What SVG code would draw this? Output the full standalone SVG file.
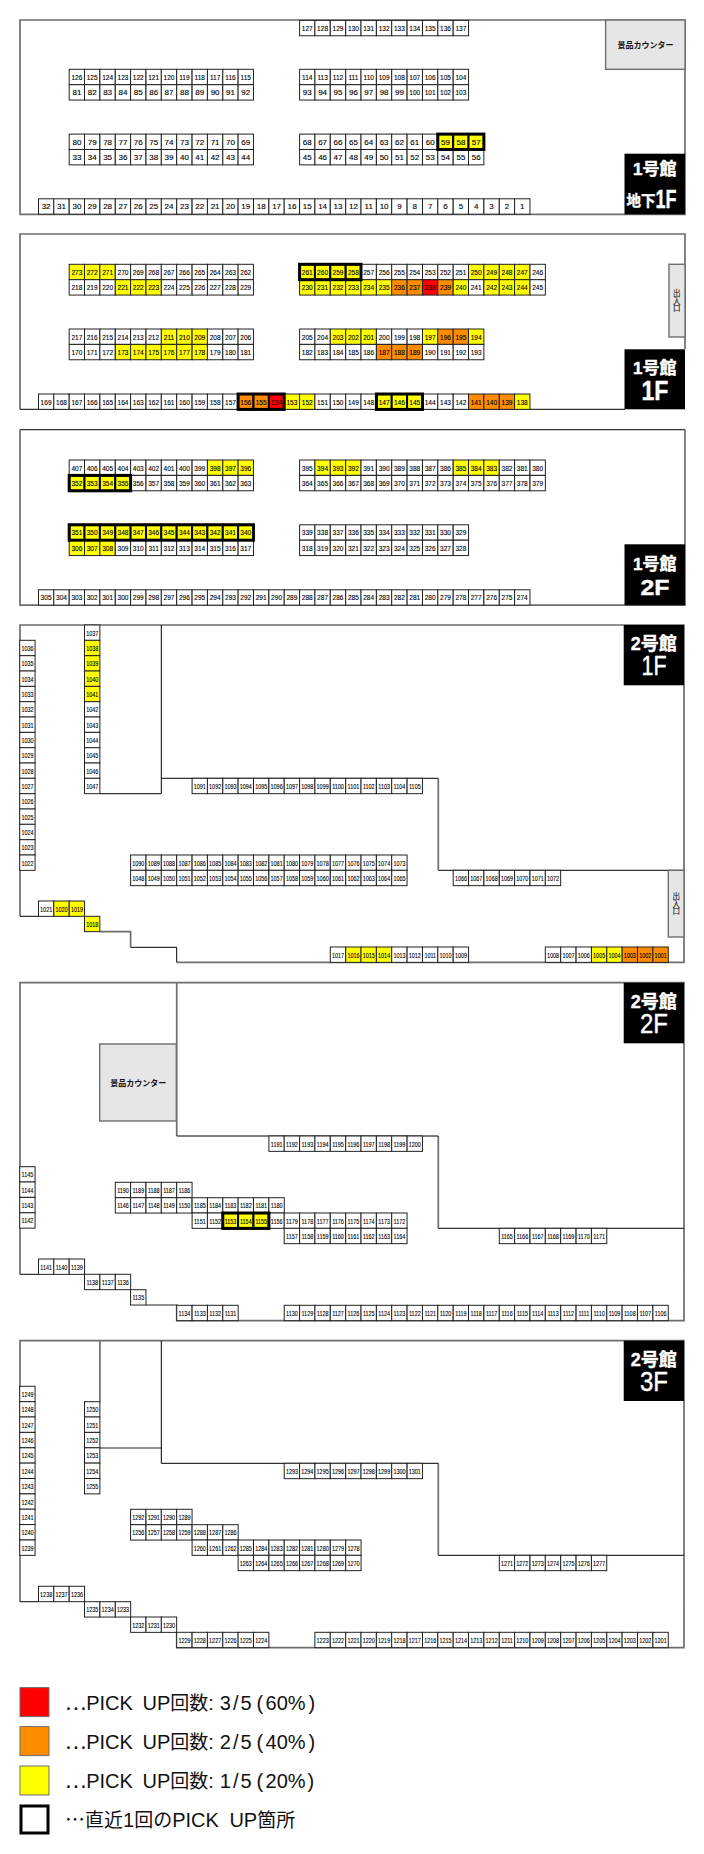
<svg xmlns="http://www.w3.org/2000/svg" width="704" height="1854" viewBox="0 0 704 1854">
<style>
text{font-family:"Liberation Sans","Noto Sans CJK JP",sans-serif}
.c rect{width:15.36px;height:15.36px;fill:#fff;stroke:#222;stroke-width:1}
.c text{font-size:8px;text-anchor:middle;fill:#000;stroke:#000;stroke-width:.12;transform-box:fill-box;transform-origin:center;transform:translateY(10.6px) scaleX(.82)}
.w text{transform:translateY(10.6px)}
.t text{transform:translateY(10.6px) scaleX(.82)}
.q text{transform:translateY(10.6px) scaleX(.68)}
.y rect{fill:#ff0}
.o rect{fill:#ff8c00}
.r rect{fill:#f00}
.h rect{stroke:#000;stroke-width:2}
.hl{fill:none;stroke:#000;stroke-width:3}
.g{fill:none;stroke:#6e6e6e;stroke-width:1.7}
.k{fill:none;stroke:#000;stroke-width:1}
.box{fill:#e6e6e6;stroke:#6e6e6e;stroke-width:1.4}
.bl{fill:#000}
.lt{fill:#fff;stroke:#fff;stroke-width:.4;font-weight:700;text-anchor:middle}
.rg{font-weight:400}
.cn{font-size:8px;font-weight:700;text-anchor:middle;fill:#111}
.ex{font-size:7.5px;text-anchor:middle;fill:#111;stroke:#111;stroke-width:.1}
.lg{font-size:20px;fill:#111}
.jp{font-family:"Noto Sans CJK JP",sans-serif}
.cj{font-size:19px}
.fr{letter-spacing:2px}
</style>
<g id="walls">
<path class="g" d="M20 20H685V214.3H20Z"/>
<path class="g" d="M20 409.3V234H685V349"/>
<path class="k" d="M20 409.3H625"/>
<path class="k" d="M20 429.7H685"/>
<path class="g" d="M20 429.7V605.2H685V429.7"/>
<path class="g" d="M20 916.3V625H684V962.3H176.7"/>
<path class="g" d="M130.6 947.3V931.7H99.9"/>
<path class="k" d="M176.7 962.3V947.3H130.6M20 916.3H38.5M99.9 793.7H161.3V625M161.3 778.3H438.3M438.3 870.3H684"/>
<path class="g" d="M438.3 778.3V870.3"/>
<path class="g" d="M20 1274.3V982.7H684V1320.7H176.7V1305H146M176.7 982.7V1136M438.3 1136V1228.3"/>
<path class="k" d="M20 1274.3H38.5M176.7 1136H438.3M438.3 1228.3H684"/>
<path class="g" d="M20 1601.7V1340.7H684V1647.7H176.7V1632.3M99.9 1340.7V1401.7M99.9 1448H161.3M438.3 1463.3V1555.3"/>
<path class="k" d="M20 1601.7H38.5M161.3 1340.7V1463.3H438.3M438.3 1555.3H684"/>
</g>
<g id="building1-b1f">
<g id="counter-b1"><rect class="box" x="605.6" y="20" width="79.4" height="49.3"/><text class="cn" x="645.5" y="48">景品カウンター</text></g>
<g class="c" transform="translate(0 20.4)"><g id="n127"><rect x="299.6"/><text x="307.3">127</text></g><g id="n128"><rect x="314.9"/><text x="322.6">128</text></g><g id="n129"><rect x="330.3"/><text x="338">129</text></g><g id="n130"><rect x="345.7"/><text x="353.4">130</text></g><g id="n131"><rect x="361"/><text x="368.7">131</text></g><g id="n132"><rect x="376.4"/><text x="384.1">132</text></g><g id="n133"><rect x="391.7"/><text x="399.4">133</text></g><g id="n134"><rect x="407.1"/><text x="414.8">134</text></g><g id="n135"><rect x="422.5"/><text x="430.2">135</text></g><g id="n136"><rect x="437.8"/><text x="445.5">136</text></g><g id="n137"><rect x="453.2"/><text x="460.9">137</text></g></g>
<g class="c" transform="translate(0 69.3)"><g id="n126"><rect x="69.2"/><text x="76.9">126</text></g><g id="n125"><rect x="84.5"/><text x="92.2">125</text></g><g id="n124"><rect x="99.9"/><text x="107.6">124</text></g><g id="n123"><rect x="115.3"/><text x="123">123</text></g><g id="n122"><rect x="130.6"/><text x="138.3">122</text></g><g id="n121"><rect x="146"/><text x="153.7">121</text></g><g id="n120"><rect x="161.3"/><text x="169">120</text></g><g id="n119"><rect x="176.7"/><text x="184.4">119</text></g><g id="n118"><rect x="192.1"/><text x="199.8">118</text></g><g id="n117"><rect x="207.4"/><text x="215.1">117</text></g><g id="n116"><rect x="222.8"/><text x="230.5">116</text></g><g id="n115"><rect x="238.1"/><text x="245.8">115</text></g>
<g id="n114"><rect x="299.6"/><text x="307.3">114</text></g><g id="n113"><rect x="314.9"/><text x="322.6">113</text></g><g id="n112"><rect x="330.3"/><text x="338">112</text></g><g id="n111"><rect x="345.7"/><text x="353.4">111</text></g><g id="n110"><rect x="361"/><text x="368.7">110</text></g><g id="n109"><rect x="376.4"/><text x="384.1">109</text></g><g id="n108"><rect x="391.7"/><text x="399.4">108</text></g><g id="n107"><rect x="407.1"/><text x="414.8">107</text></g><g id="n106"><rect x="422.5"/><text x="430.2">106</text></g><g id="n105"><rect x="437.8"/><text x="445.5">105</text></g><g id="n104"><rect x="453.2"/><text x="460.9">104</text></g></g>
<g class="c w" transform="translate(0 84.7)"><g id="n81"><rect x="69.2"/><text x="76.9">81</text></g><g id="n82"><rect x="84.5"/><text x="92.2">82</text></g><g id="n83"><rect x="99.9"/><text x="107.6">83</text></g><g id="n84"><rect x="115.3"/><text x="123">84</text></g><g id="n85"><rect x="130.6"/><text x="138.3">85</text></g><g id="n86"><rect x="146"/><text x="153.7">86</text></g><g id="n87"><rect x="161.3"/><text x="169">87</text></g><g id="n88"><rect x="176.7"/><text x="184.4">88</text></g><g id="n89"><rect x="192.1"/><text x="199.8">89</text></g><g id="n90"><rect x="207.4"/><text x="215.1">90</text></g><g id="n91"><rect x="222.8"/><text x="230.5">91</text></g><g id="n92"><rect x="238.1"/><text x="245.8">92</text></g>
<g id="n93"><rect x="299.6"/><text x="307.3">93</text></g><g id="n94"><rect x="314.9"/><text x="322.6">94</text></g><g id="n95"><rect x="330.3"/><text x="338">95</text></g><g id="n96"><rect x="345.7"/><text x="353.4">96</text></g><g id="n97"><rect x="361"/><text x="368.7">97</text></g><g id="n98"><rect x="376.4"/><text x="384.1">98</text></g><g id="n99"><rect x="391.7"/><text x="399.4">99</text></g><g id="n100" class="t"><rect x="407.1"/><text x="414.8">100</text></g><g id="n101" class="t"><rect x="422.5"/><text x="430.2">101</text></g><g id="n102" class="t"><rect x="437.8"/><text x="445.5">102</text></g><g id="n103" class="t"><rect x="453.2"/><text x="460.9">103</text></g></g>
<g class="c w" transform="translate(0 134.1)"><g id="n80"><rect x="69.2"/><text x="76.9">80</text></g><g id="n79"><rect x="84.5"/><text x="92.2">79</text></g><g id="n78"><rect x="99.9"/><text x="107.6">78</text></g><g id="n77"><rect x="115.3"/><text x="123">77</text></g><g id="n76"><rect x="130.6"/><text x="138.3">76</text></g><g id="n75"><rect x="146"/><text x="153.7">75</text></g><g id="n74"><rect x="161.3"/><text x="169">74</text></g><g id="n73"><rect x="176.7"/><text x="184.4">73</text></g><g id="n72"><rect x="192.1"/><text x="199.8">72</text></g><g id="n71"><rect x="207.4"/><text x="215.1">71</text></g><g id="n70"><rect x="222.8"/><text x="230.5">70</text></g><g id="n69"><rect x="238.1"/><text x="245.8">69</text></g>
<g id="n68"><rect x="299.6"/><text x="307.3">68</text></g><g id="n67"><rect x="314.9"/><text x="322.6">67</text></g><g id="n66"><rect x="330.3"/><text x="338">66</text></g><g id="n65"><rect x="345.7"/><text x="353.4">65</text></g><g id="n64"><rect x="361"/><text x="368.7">64</text></g><g id="n63"><rect x="376.4"/><text x="384.1">63</text></g><g id="n62"><rect x="391.7"/><text x="399.4">62</text></g><g id="n61"><rect x="407.1"/><text x="414.8">61</text></g><g id="n60"><rect x="422.5"/><text x="430.2">60</text></g><g id="n59" class="y h"><rect x="437.8"/><text x="445.5">59</text></g><g id="n58" class="y h"><rect x="453.2"/><text x="460.9">58</text></g><g id="n57" class="y h"><rect x="468.5"/><text x="476.2">57</text></g></g>
<g class="c w" transform="translate(0 149.5)"><g id="n33"><rect x="69.2"/><text x="76.9">33</text></g><g id="n34"><rect x="84.5"/><text x="92.2">34</text></g><g id="n35"><rect x="99.9"/><text x="107.6">35</text></g><g id="n36"><rect x="115.3"/><text x="123">36</text></g><g id="n37"><rect x="130.6"/><text x="138.3">37</text></g><g id="n38"><rect x="146"/><text x="153.7">38</text></g><g id="n39"><rect x="161.3"/><text x="169">39</text></g><g id="n40"><rect x="176.7"/><text x="184.4">40</text></g><g id="n41"><rect x="192.1"/><text x="199.8">41</text></g><g id="n42"><rect x="207.4"/><text x="215.1">42</text></g><g id="n43"><rect x="222.8"/><text x="230.5">43</text></g><g id="n44"><rect x="238.1"/><text x="245.8">44</text></g>
<g id="n45"><rect x="299.6"/><text x="307.3">45</text></g><g id="n46"><rect x="314.9"/><text x="322.6">46</text></g><g id="n47"><rect x="330.3"/><text x="338">47</text></g><g id="n48"><rect x="345.7"/><text x="353.4">48</text></g><g id="n49"><rect x="361"/><text x="368.7">49</text></g><g id="n50"><rect x="376.4"/><text x="384.1">50</text></g><g id="n51"><rect x="391.7"/><text x="399.4">51</text></g><g id="n52"><rect x="407.1"/><text x="414.8">52</text></g><g id="n53"><rect x="422.5"/><text x="430.2">53</text></g><g id="n54"><rect x="437.8"/><text x="445.5">54</text></g><g id="n55"><rect x="453.2"/><text x="460.9">55</text></g><g id="n56"><rect x="468.5"/><text x="476.2">56</text></g></g>
<g class="c w" transform="translate(0 198.8)"><g id="n32"><rect x="38.5"/><text x="46.1">32</text></g><g id="n31"><rect x="53.8"/><text x="61.5">31</text></g><g id="n30"><rect x="69.2"/><text x="76.9">30</text></g><g id="n29"><rect x="84.5"/><text x="92.2">29</text></g><g id="n28"><rect x="99.9"/><text x="107.6">28</text></g><g id="n27"><rect x="115.3"/><text x="123">27</text></g><g id="n26"><rect x="130.6"/><text x="138.3">26</text></g><g id="n25"><rect x="146"/><text x="153.7">25</text></g><g id="n24"><rect x="161.3"/><text x="169">24</text></g><g id="n23"><rect x="176.7"/><text x="184.4">23</text></g><g id="n22"><rect x="192.1"/><text x="199.8">22</text></g><g id="n21"><rect x="207.4"/><text x="215.1">21</text></g><g id="n20"><rect x="222.8"/><text x="230.5">20</text></g><g id="n19"><rect x="238.1"/><text x="245.8">19</text></g><g id="n18"><rect x="253.5"/><text x="261.2">18</text></g><g id="n17"><rect x="268.9"/><text x="276.6">17</text></g><g id="n16"><rect x="284.2"/><text x="291.9">16</text></g><g id="n15"><rect x="299.6"/><text x="307.3">15</text></g><g id="n14"><rect x="314.9"/><text x="322.6">14</text></g><g id="n13"><rect x="330.3"/><text x="338">13</text></g><g id="n12"><rect x="345.7"/><text x="353.4">12</text></g><g id="n11"><rect x="361"/><text x="368.7">11</text></g><g id="n10"><rect x="376.4"/><text x="384.1">10</text></g><g id="n9"><rect x="391.7"/><text x="399.4">9</text></g><g id="n8"><rect x="407.1"/><text x="414.8">8</text></g><g id="n7"><rect x="422.5"/><text x="430.2">7</text></g><g id="n6"><rect x="437.8"/><text x="445.5">6</text></g><g id="n5"><rect x="453.2"/><text x="460.9">5</text></g><g id="n4"><rect x="468.5"/><text x="476.2">4</text></g><g id="n3"><rect x="483.9"/><text x="491.6">3</text></g><g id="n2"><rect x="499.3"/><text x="507">2</text></g><g id="n1"><rect x="514.6"/><text x="522.3">1</text></g></g>
<rect class="hl" x="437.8" y="134.1" width="46.1" height="15.4"/>
<g id="label-b1f"><rect class="bl" x="624.5" y="153.7" width="60.5" height="60.6"/><text class="lt" x="654.7" y="175" font-size="17">1号館</text><text class="lt" x="641" y="206" font-size="14.5">地下</text><text class="lt" x="666" y="208" font-size="26" textLength="21" lengthAdjust="spacingAndGlyphs">1F</text></g>
</g>
<g id="building1-1f">
<g id="exit-1f"><rect class="box" x="669" y="264.3" width="16" height="72.7"/><text class="ex" y="289"><tspan x="676.7" dy="7">出</tspan><tspan x="676.7" dy="7.5">入</tspan><tspan x="676.7" dy="7.5">口</tspan></text></g>
<g class="c" transform="translate(0 264.3)"><g id="n273" class="y"><rect x="69.2"/><text x="76.9">273</text></g><g id="n272" class="y"><rect x="84.5"/><text x="92.2">272</text></g><g id="n271" class="y"><rect x="99.9"/><text x="107.6">271</text></g><g id="n270"><rect x="115.3"/><text x="123">270</text></g><g id="n269"><rect x="130.6"/><text x="138.3">269</text></g><g id="n268"><rect x="146"/><text x="153.7">268</text></g><g id="n267"><rect x="161.3"/><text x="169">267</text></g><g id="n266"><rect x="176.7"/><text x="184.4">266</text></g><g id="n265"><rect x="192.1"/><text x="199.8">265</text></g><g id="n264"><rect x="207.4"/><text x="215.1">264</text></g><g id="n263"><rect x="222.8"/><text x="230.5">263</text></g><g id="n262"><rect x="238.1"/><text x="245.8">262</text></g>
<g id="n261" class="y h"><rect x="299.6"/><text x="307.3">261</text></g><g id="n260" class="y h"><rect x="314.9"/><text x="322.6">260</text></g><g id="n259" class="y h"><rect x="330.3"/><text x="338">259</text></g><g id="n258" class="y h"><rect x="345.7"/><text x="353.4">258</text></g><g id="n257"><rect x="361"/><text x="368.7">257</text></g><g id="n256"><rect x="376.4"/><text x="384.1">256</text></g><g id="n255"><rect x="391.7"/><text x="399.4">255</text></g><g id="n254"><rect x="407.1"/><text x="414.8">254</text></g><g id="n253"><rect x="422.5"/><text x="430.2">253</text></g><g id="n252"><rect x="437.8"/><text x="445.5">252</text></g><g id="n251"><rect x="453.2"/><text x="460.9">251</text></g><g id="n250" class="y"><rect x="468.5"/><text x="476.2">250</text></g><g id="n249" class="y"><rect x="483.9"/><text x="491.6">249</text></g><g id="n248" class="y"><rect x="499.3"/><text x="507">248</text></g><g id="n247" class="y"><rect x="514.6"/><text x="522.3">247</text></g><g id="n246"><rect x="530"/><text x="537.7">246</text></g></g>
<g class="c" transform="translate(0 279.7)"><g id="n218"><rect x="69.2"/><text x="76.9">218</text></g><g id="n219"><rect x="84.5"/><text x="92.2">219</text></g><g id="n220"><rect x="99.9"/><text x="107.6">220</text></g><g id="n221" class="y"><rect x="115.3"/><text x="123">221</text></g><g id="n222" class="y"><rect x="130.6"/><text x="138.3">222</text></g><g id="n223" class="y"><rect x="146"/><text x="153.7">223</text></g><g id="n224"><rect x="161.3"/><text x="169">224</text></g><g id="n225"><rect x="176.7"/><text x="184.4">225</text></g><g id="n226"><rect x="192.1"/><text x="199.8">226</text></g><g id="n227"><rect x="207.4"/><text x="215.1">227</text></g><g id="n228"><rect x="222.8"/><text x="230.5">228</text></g><g id="n229"><rect x="238.1"/><text x="245.8">229</text></g>
<g id="n230" class="y"><rect x="299.6"/><text x="307.3">230</text></g><g id="n231" class="y"><rect x="314.9"/><text x="322.6">231</text></g><g id="n232" class="y"><rect x="330.3"/><text x="338">232</text></g><g id="n233" class="y"><rect x="345.7"/><text x="353.4">233</text></g><g id="n234" class="y"><rect x="361"/><text x="368.7">234</text></g><g id="n235" class="y"><rect x="376.4"/><text x="384.1">235</text></g><g id="n236" class="o"><rect x="391.7"/><text x="399.4">236</text></g><g id="n237" class="o"><rect x="407.1"/><text x="414.8">237</text></g><g id="n238" class="r"><rect x="422.5"/><text x="430.2">238</text></g><g id="n239" class="o"><rect x="437.8"/><text x="445.5">239</text></g><g id="n240" class="y"><rect x="453.2"/><text x="460.9">240</text></g><g id="n241"><rect x="468.5"/><text x="476.2">241</text></g><g id="n242" class="y"><rect x="483.9"/><text x="491.6">242</text></g><g id="n243" class="y"><rect x="499.3"/><text x="507">243</text></g><g id="n244" class="y"><rect x="514.6"/><text x="522.3">244</text></g><g id="n245"><rect x="530"/><text x="537.7">245</text></g></g>
<g class="c" transform="translate(0 329)"><g id="n217"><rect x="69.2"/><text x="76.9">217</text></g><g id="n216"><rect x="84.5"/><text x="92.2">216</text></g><g id="n215"><rect x="99.9"/><text x="107.6">215</text></g><g id="n214"><rect x="115.3"/><text x="123">214</text></g><g id="n213"><rect x="130.6"/><text x="138.3">213</text></g><g id="n212"><rect x="146"/><text x="153.7">212</text></g><g id="n211" class="y"><rect x="161.3"/><text x="169">211</text></g><g id="n210" class="y"><rect x="176.7"/><text x="184.4">210</text></g><g id="n209" class="y"><rect x="192.1"/><text x="199.8">209</text></g><g id="n208"><rect x="207.4"/><text x="215.1">208</text></g><g id="n207"><rect x="222.8"/><text x="230.5">207</text></g><g id="n206"><rect x="238.1"/><text x="245.8">206</text></g>
<g id="n205"><rect x="299.6"/><text x="307.3">205</text></g><g id="n204"><rect x="314.9"/><text x="322.6">204</text></g><g id="n203" class="y"><rect x="330.3"/><text x="338">203</text></g><g id="n202" class="y"><rect x="345.7"/><text x="353.4">202</text></g><g id="n201" class="y"><rect x="361"/><text x="368.7">201</text></g><g id="n200"><rect x="376.4"/><text x="384.1">200</text></g><g id="n199"><rect x="391.7"/><text x="399.4">199</text></g><g id="n198"><rect x="407.1"/><text x="414.8">198</text></g><g id="n197" class="y"><rect x="422.5"/><text x="430.2">197</text></g><g id="n196" class="o"><rect x="437.8"/><text x="445.5">196</text></g><g id="n195" class="o"><rect x="453.2"/><text x="460.9">195</text></g><g id="n194" class="y"><rect x="468.5"/><text x="476.2">194</text></g></g>
<g class="c" transform="translate(0 344.4)"><g id="n170"><rect x="69.2"/><text x="76.9">170</text></g><g id="n171"><rect x="84.5"/><text x="92.2">171</text></g><g id="n172"><rect x="99.9"/><text x="107.6">172</text></g><g id="n173" class="y"><rect x="115.3"/><text x="123">173</text></g><g id="n174" class="y"><rect x="130.6"/><text x="138.3">174</text></g><g id="n175" class="y"><rect x="146"/><text x="153.7">175</text></g><g id="n176" class="y"><rect x="161.3"/><text x="169">176</text></g><g id="n177" class="y"><rect x="176.7"/><text x="184.4">177</text></g><g id="n178" class="y"><rect x="192.1"/><text x="199.8">178</text></g><g id="n179"><rect x="207.4"/><text x="215.1">179</text></g><g id="n180"><rect x="222.8"/><text x="230.5">180</text></g><g id="n181"><rect x="238.1"/><text x="245.8">181</text></g>
<g id="n182"><rect x="299.6"/><text x="307.3">182</text></g><g id="n183"><rect x="314.9"/><text x="322.6">183</text></g><g id="n184"><rect x="330.3"/><text x="338">184</text></g><g id="n185"><rect x="345.7"/><text x="353.4">185</text></g><g id="n186"><rect x="361"/><text x="368.7">186</text></g><g id="n187" class="o"><rect x="376.4"/><text x="384.1">187</text></g><g id="n188" class="o"><rect x="391.7"/><text x="399.4">188</text></g><g id="n189" class="o"><rect x="407.1"/><text x="414.8">189</text></g><g id="n190"><rect x="422.5"/><text x="430.2">190</text></g><g id="n191"><rect x="437.8"/><text x="445.5">191</text></g><g id="n192"><rect x="453.2"/><text x="460.9">192</text></g><g id="n193"><rect x="468.5"/><text x="476.2">193</text></g></g>
<g class="c" transform="translate(0 394)"><g id="n169"><rect x="38.5"/><text x="46.1">169</text></g><g id="n168"><rect x="53.8"/><text x="61.5">168</text></g><g id="n167"><rect x="69.2"/><text x="76.9">167</text></g><g id="n166"><rect x="84.5"/><text x="92.2">166</text></g><g id="n165"><rect x="99.9"/><text x="107.6">165</text></g><g id="n164"><rect x="115.3"/><text x="123">164</text></g><g id="n163"><rect x="130.6"/><text x="138.3">163</text></g><g id="n162"><rect x="146"/><text x="153.7">162</text></g><g id="n161"><rect x="161.3"/><text x="169">161</text></g><g id="n160"><rect x="176.7"/><text x="184.4">160</text></g><g id="n159"><rect x="192.1"/><text x="199.8">159</text></g><g id="n158"><rect x="207.4"/><text x="215.1">158</text></g><g id="n157"><rect x="222.8"/><text x="230.5">157</text></g><g id="n156" class="o h"><rect x="238.1"/><text x="245.8">156</text></g><g id="n155" class="o h"><rect x="253.5"/><text x="261.2">155</text></g><g id="n154" class="r h"><rect x="268.9"/><text x="276.6">154</text></g><g id="n153" class="y"><rect x="284.2"/><text x="291.9">153</text></g><g id="n152" class="y"><rect x="299.6"/><text x="307.3">152</text></g><g id="n151"><rect x="314.9"/><text x="322.6">151</text></g><g id="n150"><rect x="330.3"/><text x="338">150</text></g><g id="n149"><rect x="345.7"/><text x="353.4">149</text></g><g id="n148"><rect x="361"/><text x="368.7">148</text></g><g id="n147" class="y h"><rect x="376.4"/><text x="384.1">147</text></g><g id="n146" class="y h"><rect x="391.7"/><text x="399.4">146</text></g><g id="n145" class="y h"><rect x="407.1"/><text x="414.8">145</text></g><g id="n144"><rect x="422.5"/><text x="430.2">144</text></g><g id="n143"><rect x="437.8"/><text x="445.5">143</text></g><g id="n142"><rect x="453.2"/><text x="460.9">142</text></g><g id="n141" class="o"><rect x="468.5"/><text x="476.2">141</text></g><g id="n140" class="o"><rect x="483.9"/><text x="491.6">140</text></g><g id="n139" class="o"><rect x="499.3"/><text x="507">139</text></g><g id="n138" class="y"><rect x="514.6"/><text x="522.3">138</text></g></g>
<rect class="hl" x="299.6" y="264.3" width="61.4" height="15.4"/><rect class="hl" x="238.1" y="394" width="46.1" height="15.4"/><rect class="hl" x="376.4" y="394" width="46.1" height="15.4"/>
<g id="label-1f"><rect class="bl" x="624.5" y="349.3" width="60.5" height="60"/><text class="lt" x="654.7" y="373.5" font-size="17">1号館</text><text class="lt" x="655" y="400" font-size="28" textLength="27" lengthAdjust="spacingAndGlyphs">1F</text></g>
</g>
<g id="building1-2f">
<g class="c" transform="translate(0 460)"><g id="n407"><rect x="69.2"/><text x="76.9">407</text></g><g id="n406"><rect x="84.5"/><text x="92.2">406</text></g><g id="n405"><rect x="99.9"/><text x="107.6">405</text></g><g id="n404"><rect x="115.3"/><text x="123">404</text></g><g id="n403"><rect x="130.6"/><text x="138.3">403</text></g><g id="n402"><rect x="146"/><text x="153.7">402</text></g><g id="n401"><rect x="161.3"/><text x="169">401</text></g><g id="n400"><rect x="176.7"/><text x="184.4">400</text></g><g id="n399"><rect x="192.1"/><text x="199.8">399</text></g><g id="n398" class="y"><rect x="207.4"/><text x="215.1">398</text></g><g id="n397" class="y"><rect x="222.8"/><text x="230.5">397</text></g><g id="n396" class="y"><rect x="238.1"/><text x="245.8">396</text></g>
<g id="n395"><rect x="299.6"/><text x="307.3">395</text></g><g id="n394" class="y"><rect x="314.9"/><text x="322.6">394</text></g><g id="n393" class="y"><rect x="330.3"/><text x="338">393</text></g><g id="n392" class="y"><rect x="345.7"/><text x="353.4">392</text></g><g id="n391"><rect x="361"/><text x="368.7">391</text></g><g id="n390"><rect x="376.4"/><text x="384.1">390</text></g><g id="n389"><rect x="391.7"/><text x="399.4">389</text></g><g id="n388"><rect x="407.1"/><text x="414.8">388</text></g><g id="n387"><rect x="422.5"/><text x="430.2">387</text></g><g id="n386"><rect x="437.8"/><text x="445.5">386</text></g><g id="n385" class="y"><rect x="453.2"/><text x="460.9">385</text></g><g id="n384" class="y"><rect x="468.5"/><text x="476.2">384</text></g><g id="n383" class="y"><rect x="483.9"/><text x="491.6">383</text></g><g id="n382"><rect x="499.3"/><text x="507">382</text></g><g id="n381"><rect x="514.6"/><text x="522.3">381</text></g><g id="n380"><rect x="530"/><text x="537.7">380</text></g></g>
<g class="c" transform="translate(0 475.4)"><g id="n352" class="y h"><rect x="69.2"/><text x="76.9">352</text></g><g id="n353" class="y h"><rect x="84.5"/><text x="92.2">353</text></g><g id="n354" class="y h"><rect x="99.9"/><text x="107.6">354</text></g><g id="n355" class="y h"><rect x="115.3"/><text x="123">355</text></g><g id="n356"><rect x="130.6"/><text x="138.3">356</text></g><g id="n357"><rect x="146"/><text x="153.7">357</text></g><g id="n358"><rect x="161.3"/><text x="169">358</text></g><g id="n359"><rect x="176.7"/><text x="184.4">359</text></g><g id="n360"><rect x="192.1"/><text x="199.8">360</text></g><g id="n361"><rect x="207.4"/><text x="215.1">361</text></g><g id="n362"><rect x="222.8"/><text x="230.5">362</text></g><g id="n363"><rect x="238.1"/><text x="245.8">363</text></g>
<g id="n364"><rect x="299.6"/><text x="307.3">364</text></g><g id="n365"><rect x="314.9"/><text x="322.6">365</text></g><g id="n366"><rect x="330.3"/><text x="338">366</text></g><g id="n367"><rect x="345.7"/><text x="353.4">367</text></g><g id="n368"><rect x="361"/><text x="368.7">368</text></g><g id="n369"><rect x="376.4"/><text x="384.1">369</text></g><g id="n370"><rect x="391.7"/><text x="399.4">370</text></g><g id="n371"><rect x="407.1"/><text x="414.8">371</text></g><g id="n372"><rect x="422.5"/><text x="430.2">372</text></g><g id="n373"><rect x="437.8"/><text x="445.5">373</text></g><g id="n374"><rect x="453.2"/><text x="460.9">374</text></g><g id="n375"><rect x="468.5"/><text x="476.2">375</text></g><g id="n376"><rect x="483.9"/><text x="491.6">376</text></g><g id="n377"><rect x="499.3"/><text x="507">377</text></g><g id="n378"><rect x="514.6"/><text x="522.3">378</text></g><g id="n379"><rect x="530"/><text x="537.7">379</text></g></g>
<g class="c" transform="translate(0 524.8)"><g id="n351" class="y h"><rect x="69.2"/><text x="76.9">351</text></g><g id="n350" class="y h"><rect x="84.5"/><text x="92.2">350</text></g><g id="n349" class="y h"><rect x="99.9"/><text x="107.6">349</text></g><g id="n348" class="y h"><rect x="115.3"/><text x="123">348</text></g><g id="n347" class="y h"><rect x="130.6"/><text x="138.3">347</text></g><g id="n346" class="y h"><rect x="146"/><text x="153.7">346</text></g><g id="n345" class="y h"><rect x="161.3"/><text x="169">345</text></g><g id="n344" class="y h"><rect x="176.7"/><text x="184.4">344</text></g><g id="n343" class="y h"><rect x="192.1"/><text x="199.8">343</text></g><g id="n342" class="y h"><rect x="207.4"/><text x="215.1">342</text></g><g id="n341" class="y h"><rect x="222.8"/><text x="230.5">341</text></g><g id="n340" class="y h"><rect x="238.1"/><text x="245.8">340</text></g>
<g id="n339"><rect x="299.6"/><text x="307.3">339</text></g><g id="n338"><rect x="314.9"/><text x="322.6">338</text></g><g id="n337"><rect x="330.3"/><text x="338">337</text></g><g id="n336"><rect x="345.7"/><text x="353.4">336</text></g><g id="n335"><rect x="361"/><text x="368.7">335</text></g><g id="n334"><rect x="376.4"/><text x="384.1">334</text></g><g id="n333"><rect x="391.7"/><text x="399.4">333</text></g><g id="n332"><rect x="407.1"/><text x="414.8">332</text></g><g id="n331"><rect x="422.5"/><text x="430.2">331</text></g><g id="n330"><rect x="437.8"/><text x="445.5">330</text></g><g id="n329"><rect x="453.2"/><text x="460.9">329</text></g></g>
<g class="c" transform="translate(0 540.2)"><g id="n306" class="y"><rect x="69.2"/><text x="76.9">306</text></g><g id="n307" class="y"><rect x="84.5"/><text x="92.2">307</text></g><g id="n308" class="y"><rect x="99.9"/><text x="107.6">308</text></g><g id="n309"><rect x="115.3"/><text x="123">309</text></g><g id="n310"><rect x="130.6"/><text x="138.3">310</text></g><g id="n311"><rect x="146"/><text x="153.7">311</text></g><g id="n312"><rect x="161.3"/><text x="169">312</text></g><g id="n313"><rect x="176.7"/><text x="184.4">313</text></g><g id="n314"><rect x="192.1"/><text x="199.8">314</text></g><g id="n315"><rect x="207.4"/><text x="215.1">315</text></g><g id="n316"><rect x="222.8"/><text x="230.5">316</text></g><g id="n317"><rect x="238.1"/><text x="245.8">317</text></g>
<g id="n318"><rect x="299.6"/><text x="307.3">318</text></g><g id="n319"><rect x="314.9"/><text x="322.6">319</text></g><g id="n320"><rect x="330.3"/><text x="338">320</text></g><g id="n321"><rect x="345.7"/><text x="353.4">321</text></g><g id="n322"><rect x="361"/><text x="368.7">322</text></g><g id="n323"><rect x="376.4"/><text x="384.1">323</text></g><g id="n324"><rect x="391.7"/><text x="399.4">324</text></g><g id="n325"><rect x="407.1"/><text x="414.8">325</text></g><g id="n326"><rect x="422.5"/><text x="430.2">326</text></g><g id="n327"><rect x="437.8"/><text x="445.5">327</text></g><g id="n328"><rect x="453.2"/><text x="460.9">328</text></g></g>
<g class="c" transform="translate(0 589.8)"><g id="n305"><rect x="38.5"/><text x="46.1">305</text></g><g id="n304"><rect x="53.8"/><text x="61.5">304</text></g><g id="n303"><rect x="69.2"/><text x="76.9">303</text></g><g id="n302"><rect x="84.5"/><text x="92.2">302</text></g><g id="n301"><rect x="99.9"/><text x="107.6">301</text></g><g id="n300"><rect x="115.3"/><text x="123">300</text></g><g id="n299"><rect x="130.6"/><text x="138.3">299</text></g><g id="n298"><rect x="146"/><text x="153.7">298</text></g><g id="n297"><rect x="161.3"/><text x="169">297</text></g><g id="n296"><rect x="176.7"/><text x="184.4">296</text></g><g id="n295"><rect x="192.1"/><text x="199.8">295</text></g><g id="n294"><rect x="207.4"/><text x="215.1">294</text></g><g id="n293"><rect x="222.8"/><text x="230.5">293</text></g><g id="n292"><rect x="238.1"/><text x="245.8">292</text></g><g id="n291"><rect x="253.5"/><text x="261.2">291</text></g><g id="n290"><rect x="268.9"/><text x="276.6">290</text></g><g id="n289"><rect x="284.2"/><text x="291.9">289</text></g><g id="n288"><rect x="299.6"/><text x="307.3">288</text></g><g id="n287"><rect x="314.9"/><text x="322.6">287</text></g><g id="n286"><rect x="330.3"/><text x="338">286</text></g><g id="n285"><rect x="345.7"/><text x="353.4">285</text></g><g id="n284"><rect x="361"/><text x="368.7">284</text></g><g id="n283"><rect x="376.4"/><text x="384.1">283</text></g><g id="n282"><rect x="391.7"/><text x="399.4">282</text></g><g id="n281"><rect x="407.1"/><text x="414.8">281</text></g><g id="n280"><rect x="422.5"/><text x="430.2">280</text></g><g id="n279"><rect x="437.8"/><text x="445.5">279</text></g><g id="n278"><rect x="453.2"/><text x="460.9">278</text></g><g id="n277"><rect x="468.5"/><text x="476.2">277</text></g><g id="n276"><rect x="483.9"/><text x="491.6">276</text></g><g id="n275"><rect x="499.3"/><text x="507">275</text></g><g id="n274"><rect x="514.6"/><text x="522.3">274</text></g></g>
<rect class="hl" x="69.2" y="475.4" width="61.4" height="15.4"/><rect class="hl" x="69.2" y="524.8" width="184.3" height="15.4"/>
<g id="label-2f"><rect class="bl" x="624.5" y="544.3" width="60.5" height="60.9"/><text class="lt" x="654.7" y="570" font-size="17">1号館</text><text class="lt" x="655" y="595" font-size="22" textLength="29" lengthAdjust="spacingAndGlyphs">2F</text></g>
</g>
<g id="building2-1f">
<g id="exit-2-1f"><rect class="box" x="668.3" y="870.3" width="15.7" height="66.7"/><text class="ex" y="892"><tspan x="676.3" dy="7">出</tspan><tspan x="676.3" dy="7.5">入</tspan><tspan x="676.3" dy="7.5">口</tspan></text></g>
<g class="c q"><g id="n1037" transform="translate(0 625)"><rect x="84.5"/><text x="92.2">1037</text></g><g id="n1038" class="y" transform="translate(0 640.3)"><rect x="84.5"/><text x="92.2">1038</text></g><g id="n1039" class="y" transform="translate(0 655.7)"><rect x="84.5"/><text x="92.2">1039</text></g><g id="n1040" class="y" transform="translate(0 671)"><rect x="84.5"/><text x="92.2">1040</text></g><g id="n1041" class="y" transform="translate(0 686.4)"><rect x="84.5"/><text x="92.2">1041</text></g><g id="n1042" transform="translate(0 701.7)"><rect x="84.5"/><text x="92.2">1042</text></g><g id="n1043" transform="translate(0 717)"><rect x="84.5"/><text x="92.2">1043</text></g><g id="n1044" transform="translate(0 732.4)"><rect x="84.5"/><text x="92.2">1044</text></g><g id="n1045" transform="translate(0 747.7)"><rect x="84.5"/><text x="92.2">1045</text></g><g id="n1046" transform="translate(0 763)"><rect x="84.5"/><text x="92.2">1046</text></g><g id="n1047" transform="translate(0 778.3)"><rect x="84.5"/><text x="92.2">1047</text></g></g>
<g class="c q"><g id="n1036" transform="translate(0 640.3)"><rect x="19.7"/><text x="27.4">1036</text></g><g id="n1035" transform="translate(0 655.7)"><rect x="19.7"/><text x="27.4">1035</text></g><g id="n1034" transform="translate(0 671)"><rect x="19.7"/><text x="27.4">1034</text></g><g id="n1033" transform="translate(0 686.4)"><rect x="19.7"/><text x="27.4">1033</text></g><g id="n1032" transform="translate(0 701.7)"><rect x="19.7"/><text x="27.4">1032</text></g><g id="n1031" transform="translate(0 717)"><rect x="19.7"/><text x="27.4">1031</text></g><g id="n1030" transform="translate(0 732.4)"><rect x="19.7"/><text x="27.4">1030</text></g><g id="n1029" transform="translate(0 747.7)"><rect x="19.7"/><text x="27.4">1029</text></g><g id="n1028" transform="translate(0 763)"><rect x="19.7"/><text x="27.4">1028</text></g><g id="n1027" transform="translate(0 778.3)"><rect x="19.7"/><text x="27.4">1027</text></g><g id="n1026" transform="translate(0 793.7)"><rect x="19.7"/><text x="27.4">1026</text></g><g id="n1025" transform="translate(0 809)"><rect x="19.7"/><text x="27.4">1025</text></g><g id="n1024" transform="translate(0 824.3)"><rect x="19.7"/><text x="27.4">1024</text></g><g id="n1023" transform="translate(0 839.7)"><rect x="19.7"/><text x="27.4">1023</text></g><g id="n1022" transform="translate(0 855)"><rect x="19.7"/><text x="27.4">1022</text></g></g>
<g class="c q" transform="translate(0 778.3)"><g id="n1091"><rect x="192.1"/><text x="199.8">1091</text></g><g id="n1092"><rect x="207.4"/><text x="215.1">1092</text></g><g id="n1093"><rect x="222.8"/><text x="230.5">1093</text></g><g id="n1094"><rect x="238.1"/><text x="245.8">1094</text></g><g id="n1095"><rect x="253.5"/><text x="261.2">1095</text></g><g id="n1096"><rect x="268.9"/><text x="276.6">1096</text></g><g id="n1097"><rect x="284.2"/><text x="291.9">1097</text></g><g id="n1098"><rect x="299.6"/><text x="307.3">1098</text></g><g id="n1099"><rect x="314.9"/><text x="322.6">1099</text></g><g id="n1100"><rect x="330.3"/><text x="338">1100</text></g><g id="n1101"><rect x="345.7"/><text x="353.4">1101</text></g><g id="n1102"><rect x="361"/><text x="368.7">1102</text></g><g id="n1103"><rect x="376.4"/><text x="384.1">1103</text></g><g id="n1104"><rect x="391.7"/><text x="399.4">1104</text></g><g id="n1105"><rect x="407.1"/><text x="414.8">1105</text></g></g>
<g class="c q" transform="translate(0 855)"><g id="n1090"><rect x="130.6"/><text x="138.3">1090</text></g><g id="n1089"><rect x="146"/><text x="153.7">1089</text></g><g id="n1088"><rect x="161.3"/><text x="169">1088</text></g><g id="n1087"><rect x="176.7"/><text x="184.4">1087</text></g><g id="n1086"><rect x="192.1"/><text x="199.8">1086</text></g><g id="n1085"><rect x="207.4"/><text x="215.1">1085</text></g><g id="n1084"><rect x="222.8"/><text x="230.5">1084</text></g><g id="n1083"><rect x="238.1"/><text x="245.8">1083</text></g><g id="n1082"><rect x="253.5"/><text x="261.2">1082</text></g><g id="n1081"><rect x="268.9"/><text x="276.6">1081</text></g><g id="n1080"><rect x="284.2"/><text x="291.9">1080</text></g><g id="n1079"><rect x="299.6"/><text x="307.3">1079</text></g><g id="n1078"><rect x="314.9"/><text x="322.6">1078</text></g><g id="n1077"><rect x="330.3"/><text x="338">1077</text></g><g id="n1076"><rect x="345.7"/><text x="353.4">1076</text></g><g id="n1075"><rect x="361"/><text x="368.7">1075</text></g><g id="n1074"><rect x="376.4"/><text x="384.1">1074</text></g><g id="n1073"><rect x="391.7"/><text x="399.4">1073</text></g></g>
<g class="c q" transform="translate(0 870.3)"><g id="n1048"><rect x="130.6"/><text x="138.3">1048</text></g><g id="n1049"><rect x="146"/><text x="153.7">1049</text></g><g id="n1050"><rect x="161.3"/><text x="169">1050</text></g><g id="n1051"><rect x="176.7"/><text x="184.4">1051</text></g><g id="n1052"><rect x="192.1"/><text x="199.8">1052</text></g><g id="n1053"><rect x="207.4"/><text x="215.1">1053</text></g><g id="n1054"><rect x="222.8"/><text x="230.5">1054</text></g><g id="n1055"><rect x="238.1"/><text x="245.8">1055</text></g><g id="n1056"><rect x="253.5"/><text x="261.2">1056</text></g><g id="n1057"><rect x="268.9"/><text x="276.6">1057</text></g><g id="n1058"><rect x="284.2"/><text x="291.9">1058</text></g><g id="n1059"><rect x="299.6"/><text x="307.3">1059</text></g><g id="n1060"><rect x="314.9"/><text x="322.6">1060</text></g><g id="n1061"><rect x="330.3"/><text x="338">1061</text></g><g id="n1062"><rect x="345.7"/><text x="353.4">1062</text></g><g id="n1063"><rect x="361"/><text x="368.7">1063</text></g><g id="n1064"><rect x="376.4"/><text x="384.1">1064</text></g><g id="n1065"><rect x="391.7"/><text x="399.4">1065</text></g>
<g id="n1066"><rect x="453.2"/><text x="460.9">1066</text></g><g id="n1067"><rect x="468.5"/><text x="476.2">1067</text></g><g id="n1068"><rect x="483.9"/><text x="491.6">1068</text></g><g id="n1069"><rect x="499.3"/><text x="507">1069</text></g><g id="n1070"><rect x="514.6"/><text x="522.3">1070</text></g><g id="n1071"><rect x="530"/><text x="537.7">1071</text></g><g id="n1072"><rect x="545.3"/><text x="553">1072</text></g></g>
<g class="c q" transform="translate(0 901)"><g id="n1021"><rect x="38.5"/><text x="46.1">1021</text></g><g id="n1020" class="y"><rect x="53.8"/><text x="61.5">1020</text></g><g id="n1019" class="y"><rect x="69.2"/><text x="76.9">1019</text></g></g>
<g class="c q" transform="translate(0 916.3)"><g id="n1018" class="y"><rect x="84.5"/><text x="92.2">1018</text></g></g>
<g class="c q" transform="translate(0 947)"><g id="n1017"><rect x="330.3"/><text x="338">1017</text></g><g id="n1016" class="y"><rect x="345.7"/><text x="353.4">1016</text></g><g id="n1015" class="y"><rect x="361"/><text x="368.7">1015</text></g><g id="n1014" class="y"><rect x="376.4"/><text x="384.1">1014</text></g><g id="n1013"><rect x="391.7"/><text x="399.4">1013</text></g><g id="n1012"><rect x="407.1"/><text x="414.8">1012</text></g><g id="n1011"><rect x="422.5"/><text x="430.2">1011</text></g><g id="n1010"><rect x="437.8"/><text x="445.5">1010</text></g><g id="n1009"><rect x="453.2"/><text x="460.9">1009</text></g>
<g id="n1008"><rect x="545.3"/><text x="553">1008</text></g><g id="n1007"><rect x="560.7"/><text x="568.4">1007</text></g><g id="n1006"><rect x="576.1"/><text x="583.8">1006</text></g><g id="n1005" class="y"><rect x="591.4"/><text x="599.1">1005</text></g><g id="n1004" class="y"><rect x="606.8"/><text x="614.5">1004</text></g><g id="n1003" class="o"><rect x="622.1"/><text x="629.8">1003</text></g><g id="n1002" class="o"><rect x="637.5"/><text x="645.2">1002</text></g><g id="n1001" class="o"><rect x="652.9"/><text x="660.6">1001</text></g></g>
<g id="label-2-1f"><rect class="bl" x="623.7" y="625" width="60.3" height="60.3"/><text class="lt" x="653.8" y="650" font-size="18">2号館</text><text class="lt rg" x="654" y="675" font-size="28" textLength="25" lengthAdjust="spacingAndGlyphs">1F</text></g>
</g>
<g id="building2-2f">
<g id="counter-2f"><rect class="box" x="99.7" y="1044" width="76.6" height="77"/><text class="cn" x="138.2" y="1086">景品カウンター</text></g>
<g class="c q"><g id="n1145" transform="translate(0 1166.7)"><rect x="19.7"/><text x="27.4">1145</text></g><g id="n1144" transform="translate(0 1182)"><rect x="19.7"/><text x="27.4">1144</text></g><g id="n1143" transform="translate(0 1197.4)"><rect x="19.7"/><text x="27.4">1143</text></g><g id="n1142" transform="translate(0 1212.8)"><rect x="19.7"/><text x="27.4">1142</text></g></g>
<g class="c q" transform="translate(0 1136)"><g id="n1191"><rect x="268.9"/><text x="276.6">1191</text></g><g id="n1192"><rect x="284.2"/><text x="291.9">1192</text></g><g id="n1193"><rect x="299.6"/><text x="307.3">1193</text></g><g id="n1194"><rect x="314.9"/><text x="322.6">1194</text></g><g id="n1195"><rect x="330.3"/><text x="338">1195</text></g><g id="n1196"><rect x="345.7"/><text x="353.4">1196</text></g><g id="n1197"><rect x="361"/><text x="368.7">1197</text></g><g id="n1198"><rect x="376.4"/><text x="384.1">1198</text></g><g id="n1199"><rect x="391.7"/><text x="399.4">1199</text></g><g id="n1200"><rect x="407.1"/><text x="414.8">1200</text></g></g>
<g class="c q" transform="translate(0 1182.3)"><g id="n1190"><rect x="115.3"/><text x="123">1190</text></g><g id="n1189"><rect x="130.6"/><text x="138.3">1189</text></g><g id="n1188"><rect x="146"/><text x="153.7">1188</text></g><g id="n1187"><rect x="161.3"/><text x="169">1187</text></g><g id="n1186"><rect x="176.7"/><text x="184.4">1186</text></g></g>
<g class="c q" transform="translate(0 1197.7)"><g id="n1146"><rect x="115.3"/><text x="123">1146</text></g><g id="n1147"><rect x="130.6"/><text x="138.3">1147</text></g><g id="n1148"><rect x="146"/><text x="153.7">1148</text></g><g id="n1149"><rect x="161.3"/><text x="169">1149</text></g><g id="n1150"><rect x="176.7"/><text x="184.4">1150</text></g><g id="n1185"><rect x="192.1"/><text x="199.8">1185</text></g><g id="n1184"><rect x="207.4"/><text x="215.1">1184</text></g><g id="n1183"><rect x="222.8"/><text x="230.5">1183</text></g><g id="n1182"><rect x="238.1"/><text x="245.8">1182</text></g><g id="n1181"><rect x="253.5"/><text x="261.2">1181</text></g><g id="n1180"><rect x="268.9"/><text x="276.6">1180</text></g></g>
<g class="c q" transform="translate(0 1213)"><g id="n1151"><rect x="192.1"/><text x="199.8">1151</text></g><g id="n1152"><rect x="207.4"/><text x="215.1">1152</text></g><g id="n1153" class="y h"><rect x="222.8"/><text x="230.5">1153</text></g><g id="n1154" class="y h"><rect x="238.1"/><text x="245.8">1154</text></g><g id="n1155" class="y h"><rect x="253.5"/><text x="261.2">1155</text></g><g id="n1156"><rect x="268.9"/><text x="276.6">1156</text></g><g id="n1179"><rect x="284.2"/><text x="291.9">1179</text></g><g id="n1178"><rect x="299.6"/><text x="307.3">1178</text></g><g id="n1177"><rect x="314.9"/><text x="322.6">1177</text></g><g id="n1176"><rect x="330.3"/><text x="338">1176</text></g><g id="n1175"><rect x="345.7"/><text x="353.4">1175</text></g><g id="n1174"><rect x="361"/><text x="368.7">1174</text></g><g id="n1173"><rect x="376.4"/><text x="384.1">1173</text></g><g id="n1172"><rect x="391.7"/><text x="399.4">1172</text></g></g>
<g class="c q" transform="translate(0 1228.3)"><g id="n1157"><rect x="284.2"/><text x="291.9">1157</text></g><g id="n1158"><rect x="299.6"/><text x="307.3">1158</text></g><g id="n1159"><rect x="314.9"/><text x="322.6">1159</text></g><g id="n1160"><rect x="330.3"/><text x="338">1160</text></g><g id="n1161"><rect x="345.7"/><text x="353.4">1161</text></g><g id="n1162"><rect x="361"/><text x="368.7">1162</text></g><g id="n1163"><rect x="376.4"/><text x="384.1">1163</text></g><g id="n1164"><rect x="391.7"/><text x="399.4">1164</text></g>
<g id="n1165"><rect x="499.3"/><text x="507">1165</text></g><g id="n1166"><rect x="514.6"/><text x="522.3">1166</text></g><g id="n1167"><rect x="530"/><text x="537.7">1167</text></g><g id="n1168"><rect x="545.3"/><text x="553">1168</text></g><g id="n1169"><rect x="560.7"/><text x="568.4">1169</text></g><g id="n1170"><rect x="576.1"/><text x="583.8">1170</text></g><g id="n1171"><rect x="591.4"/><text x="599.1">1171</text></g></g>
<g class="c q" transform="translate(0 1259)"><g id="n1141"><rect x="38.5"/><text x="46.1">1141</text></g><g id="n1140"><rect x="53.8"/><text x="61.5">1140</text></g><g id="n1139"><rect x="69.2"/><text x="76.9">1139</text></g></g>
<g class="c q" transform="translate(0 1274.3)"><g id="n1138"><rect x="84.5"/><text x="92.2">1138</text></g><g id="n1137"><rect x="99.9"/><text x="107.6">1137</text></g><g id="n1136"><rect x="115.3"/><text x="123">1136</text></g></g>
<g class="c q" transform="translate(0 1289.7)"><g id="n1135"><rect x="130.6"/><text x="138.3">1135</text></g></g>
<g class="c q" transform="translate(0 1305.3)"><g id="n1134"><rect x="176.7"/><text x="184.4">1134</text></g><g id="n1133"><rect x="192.1"/><text x="199.8">1133</text></g><g id="n1132"><rect x="207.4"/><text x="215.1">1132</text></g><g id="n1131"><rect x="222.8"/><text x="230.5">1131</text></g>
<g id="n1130"><rect x="284.2"/><text x="291.9">1130</text></g><g id="n1129"><rect x="299.6"/><text x="307.3">1129</text></g><g id="n1128"><rect x="314.9"/><text x="322.6">1128</text></g><g id="n1127"><rect x="330.3"/><text x="338">1127</text></g><g id="n1126"><rect x="345.7"/><text x="353.4">1126</text></g><g id="n1125"><rect x="361"/><text x="368.7">1125</text></g><g id="n1124"><rect x="376.4"/><text x="384.1">1124</text></g><g id="n1123"><rect x="391.7"/><text x="399.4">1123</text></g><g id="n1122"><rect x="407.1"/><text x="414.8">1122</text></g><g id="n1121"><rect x="422.5"/><text x="430.2">1121</text></g><g id="n1120"><rect x="437.8"/><text x="445.5">1120</text></g><g id="n1119"><rect x="453.2"/><text x="460.9">1119</text></g><g id="n1118"><rect x="468.5"/><text x="476.2">1118</text></g><g id="n1117"><rect x="483.9"/><text x="491.6">1117</text></g><g id="n1116"><rect x="499.3"/><text x="507">1116</text></g><g id="n1115"><rect x="514.6"/><text x="522.3">1115</text></g><g id="n1114"><rect x="530"/><text x="537.7">1114</text></g><g id="n1113"><rect x="545.3"/><text x="553">1113</text></g><g id="n1112"><rect x="560.7"/><text x="568.4">1112</text></g><g id="n1111"><rect x="576.1"/><text x="583.8">1111</text></g><g id="n1110"><rect x="591.4"/><text x="599.1">1110</text></g><g id="n1109"><rect x="606.8"/><text x="614.5">1109</text></g><g id="n1108"><rect x="622.1"/><text x="629.8">1108</text></g><g id="n1107"><rect x="637.5"/><text x="645.2">1107</text></g><g id="n1106"><rect x="652.9"/><text x="660.6">1106</text></g></g>
<rect class="hl" x="222.8" y="1213" width="46.1" height="15.4"/>
<g id="label-2-2f"><rect class="bl" x="623.7" y="982.7" width="60.3" height="60.6"/><text class="lt" x="653.8" y="1008" font-size="18">2号館</text><text class="lt rg" x="654" y="1033" font-size="28" textLength="28" lengthAdjust="spacingAndGlyphs">2F</text></g>
</g>
<g id="building2-3f">
<g class="c q"><g id="n1249" transform="translate(0 1386.3)"><rect x="19.7"/><text x="27.4">1249</text></g><g id="n1248" transform="translate(0 1401.7)"><rect x="19.7"/><text x="27.4">1248</text></g><g id="n1247" transform="translate(0 1417)"><rect x="19.7"/><text x="27.4">1247</text></g><g id="n1246" transform="translate(0 1432.4)"><rect x="19.7"/><text x="27.4">1246</text></g><g id="n1245" transform="translate(0 1447.8)"><rect x="19.7"/><text x="27.4">1245</text></g><g id="n1244" transform="translate(0 1463.1)"><rect x="19.7"/><text x="27.4">1244</text></g><g id="n1243" transform="translate(0 1478.5)"><rect x="19.7"/><text x="27.4">1243</text></g><g id="n1242" transform="translate(0 1493.9)"><rect x="19.7"/><text x="27.4">1242</text></g><g id="n1241" transform="translate(0 1509.2)"><rect x="19.7"/><text x="27.4">1241</text></g><g id="n1240" transform="translate(0 1524.6)"><rect x="19.7"/><text x="27.4">1240</text></g><g id="n1239" transform="translate(0 1540)"><rect x="19.7"/><text x="27.4">1239</text></g></g>
<g class="c q"><g id="n1250" transform="translate(0 1401.7)"><rect x="84.5"/><text x="92.2">1250</text></g><g id="n1251" transform="translate(0 1417)"><rect x="84.5"/><text x="92.2">1251</text></g><g id="n1252" transform="translate(0 1432.4)"><rect x="84.5"/><text x="92.2">1252</text></g><g id="n1253" transform="translate(0 1447.8)"><rect x="84.5"/><text x="92.2">1253</text></g><g id="n1254" transform="translate(0 1463.1)"><rect x="84.5"/><text x="92.2">1254</text></g><g id="n1255" transform="translate(0 1478.5)"><rect x="84.5"/><text x="92.2">1255</text></g></g>
<g class="c q" transform="translate(0 1463.3)"><g id="n1293"><rect x="284.2"/><text x="291.9">1293</text></g><g id="n1294"><rect x="299.6"/><text x="307.3">1294</text></g><g id="n1295"><rect x="314.9"/><text x="322.6">1295</text></g><g id="n1296"><rect x="330.3"/><text x="338">1296</text></g><g id="n1297"><rect x="345.7"/><text x="353.4">1297</text></g><g id="n1298"><rect x="361"/><text x="368.7">1298</text></g><g id="n1299"><rect x="376.4"/><text x="384.1">1299</text></g><g id="n1300"><rect x="391.7"/><text x="399.4">1300</text></g><g id="n1301"><rect x="407.1"/><text x="414.8">1301</text></g></g>
<g class="c q" transform="translate(0 1509.3)"><g id="n1292"><rect x="130.6"/><text x="138.3">1292</text></g><g id="n1291"><rect x="146"/><text x="153.7">1291</text></g><g id="n1290"><rect x="161.3"/><text x="169">1290</text></g><g id="n1289"><rect x="176.7"/><text x="184.4">1289</text></g></g>
<g class="c q" transform="translate(0 1524.7)"><g id="n1256"><rect x="130.6"/><text x="138.3">1256</text></g><g id="n1257"><rect x="146"/><text x="153.7">1257</text></g><g id="n1258"><rect x="161.3"/><text x="169">1258</text></g><g id="n1259"><rect x="176.7"/><text x="184.4">1259</text></g><g id="n1288"><rect x="192.1"/><text x="199.8">1288</text></g><g id="n1287"><rect x="207.4"/><text x="215.1">1287</text></g><g id="n1286"><rect x="222.8"/><text x="230.5">1286</text></g></g>
<g class="c q" transform="translate(0 1540)"><g id="n1260"><rect x="192.1"/><text x="199.8">1260</text></g><g id="n1261"><rect x="207.4"/><text x="215.1">1261</text></g><g id="n1262"><rect x="222.8"/><text x="230.5">1262</text></g><g id="n1285"><rect x="238.1"/><text x="245.8">1285</text></g><g id="n1284"><rect x="253.5"/><text x="261.2">1284</text></g><g id="n1283"><rect x="268.9"/><text x="276.6">1283</text></g><g id="n1282"><rect x="284.2"/><text x="291.9">1282</text></g><g id="n1281"><rect x="299.6"/><text x="307.3">1281</text></g><g id="n1280"><rect x="314.9"/><text x="322.6">1280</text></g><g id="n1279"><rect x="330.3"/><text x="338">1279</text></g><g id="n1278"><rect x="345.7"/><text x="353.4">1278</text></g></g>
<g class="c q" transform="translate(0 1555.3)"><g id="n1263"><rect x="238.1"/><text x="245.8">1263</text></g><g id="n1264"><rect x="253.5"/><text x="261.2">1264</text></g><g id="n1265"><rect x="268.9"/><text x="276.6">1265</text></g><g id="n1266"><rect x="284.2"/><text x="291.9">1266</text></g><g id="n1267"><rect x="299.6"/><text x="307.3">1267</text></g><g id="n1268"><rect x="314.9"/><text x="322.6">1268</text></g><g id="n1269"><rect x="330.3"/><text x="338">1269</text></g><g id="n1270"><rect x="345.7"/><text x="353.4">1270</text></g>
<g id="n1271"><rect x="499.3"/><text x="507">1271</text></g><g id="n1272"><rect x="514.6"/><text x="522.3">1272</text></g><g id="n1273"><rect x="530"/><text x="537.7">1273</text></g><g id="n1274"><rect x="545.3"/><text x="553">1274</text></g><g id="n1275"><rect x="560.7"/><text x="568.4">1275</text></g><g id="n1276"><rect x="576.1"/><text x="583.8">1276</text></g><g id="n1277"><rect x="591.4"/><text x="599.1">1277</text></g></g>
<g class="c q" transform="translate(0 1586.3)"><g id="n1238"><rect x="38.5"/><text x="46.1">1238</text></g><g id="n1237"><rect x="53.8"/><text x="61.5">1237</text></g><g id="n1236"><rect x="69.2"/><text x="76.9">1236</text></g></g>
<g class="c q" transform="translate(0 1601.7)"><g id="n1235"><rect x="84.5"/><text x="92.2">1235</text></g><g id="n1234"><rect x="99.9"/><text x="107.6">1234</text></g><g id="n1233"><rect x="115.3"/><text x="123">1233</text></g></g>
<g class="c q" transform="translate(0 1617)"><g id="n1232"><rect x="130.6"/><text x="138.3">1232</text></g><g id="n1231"><rect x="146"/><text x="153.7">1231</text></g><g id="n1230"><rect x="161.3"/><text x="169">1230</text></g></g>
<g class="c q" transform="translate(0 1632.3)"><g id="n1229"><rect x="176.7"/><text x="184.4">1229</text></g><g id="n1228"><rect x="192.1"/><text x="199.8">1228</text></g><g id="n1227"><rect x="207.4"/><text x="215.1">1227</text></g><g id="n1226"><rect x="222.8"/><text x="230.5">1226</text></g><g id="n1225"><rect x="238.1"/><text x="245.8">1225</text></g><g id="n1224"><rect x="253.5"/><text x="261.2">1224</text></g>
<g id="n1223"><rect x="314.9"/><text x="322.6">1223</text></g><g id="n1222"><rect x="330.3"/><text x="338">1222</text></g><g id="n1221"><rect x="345.7"/><text x="353.4">1221</text></g><g id="n1220"><rect x="361"/><text x="368.7">1220</text></g><g id="n1219"><rect x="376.4"/><text x="384.1">1219</text></g><g id="n1218"><rect x="391.7"/><text x="399.4">1218</text></g><g id="n1217"><rect x="407.1"/><text x="414.8">1217</text></g><g id="n1216"><rect x="422.5"/><text x="430.2">1216</text></g><g id="n1215"><rect x="437.8"/><text x="445.5">1215</text></g><g id="n1214"><rect x="453.2"/><text x="460.9">1214</text></g><g id="n1213"><rect x="468.5"/><text x="476.2">1213</text></g><g id="n1212"><rect x="483.9"/><text x="491.6">1212</text></g><g id="n1211"><rect x="499.3"/><text x="507">1211</text></g><g id="n1210"><rect x="514.6"/><text x="522.3">1210</text></g><g id="n1209"><rect x="530"/><text x="537.7">1209</text></g><g id="n1208"><rect x="545.3"/><text x="553">1208</text></g><g id="n1207"><rect x="560.7"/><text x="568.4">1207</text></g><g id="n1206"><rect x="576.1"/><text x="583.8">1206</text></g><g id="n1205"><rect x="591.4"/><text x="599.1">1205</text></g><g id="n1204"><rect x="606.8"/><text x="614.5">1204</text></g><g id="n1203"><rect x="622.1"/><text x="629.8">1203</text></g><g id="n1202"><rect x="637.5"/><text x="645.2">1202</text></g><g id="n1201"><rect x="652.9"/><text x="660.6">1201</text></g></g>
<g id="label-2-3f"><rect class="bl" x="623.7" y="1340.7" width="60.3" height="60.3"/><text class="lt" x="653.8" y="1366" font-size="18">2号館</text><text class="lt rg" x="654" y="1391" font-size="28" textLength="28" lengthAdjust="spacingAndGlyphs">3F</text></g>
</g>
<g id="legend">
<g id="legend-red"><rect x="20" y="1687.6" width="29" height="29" fill="#f00" stroke="#6e6e6e" stroke-width="1"/><text class="lg" x="65" y="1710"><tspan class="jp">…</tspan>PICK<tspan dx="4"> UP</tspan><tspan class="cj">回数</tspan>:<tspan class="fr" dx="6">3/5</tspan><tspan dx="3">(</tspan><tspan dx="2.3">60%</tspan><tspan dx="3">)</tspan></text></g>
<g id="legend-orange"><rect x="20" y="1726.6" width="29" height="29" fill="#ff8c00" stroke="#6e6e6e" stroke-width="1"/><text class="lg" x="65" y="1749"><tspan class="jp">…</tspan>PICK<tspan dx="4"> UP</tspan><tspan class="cj">回数</tspan>:<tspan class="fr" dx="6">2/5</tspan><tspan dx="3">(</tspan><tspan dx="2.3">40%</tspan><tspan dx="3">)</tspan></text></g>
<g id="legend-yellow"><rect x="20" y="1766" width="29" height="29" fill="#ff0" stroke="#6e6e6e" stroke-width="1"/><text class="lg" x="65" y="1788"><tspan class="jp">…</tspan>PICK<tspan dx="4"> UP</tspan><tspan class="cj">回数</tspan>:<tspan class="fr" dx="6">1/5</tspan><tspan dx="3">(</tspan><tspan dx="2.3">20%</tspan><tspan dx="2">)</tspan></text></g>
<g id="legend-recent"><rect x="21" y="1806" width="27" height="27" fill="#fff" stroke="#000" stroke-width="3"/><text class="lg" x="65" y="1827"><tspan class="jp">…</tspan><tspan class="cj">直近</tspan>1<tspan class="cj">回の</tspan>PICK<tspan dx="5"> UP</tspan><tspan class="cj">箇所</tspan></text></g>
</g>
</svg>
